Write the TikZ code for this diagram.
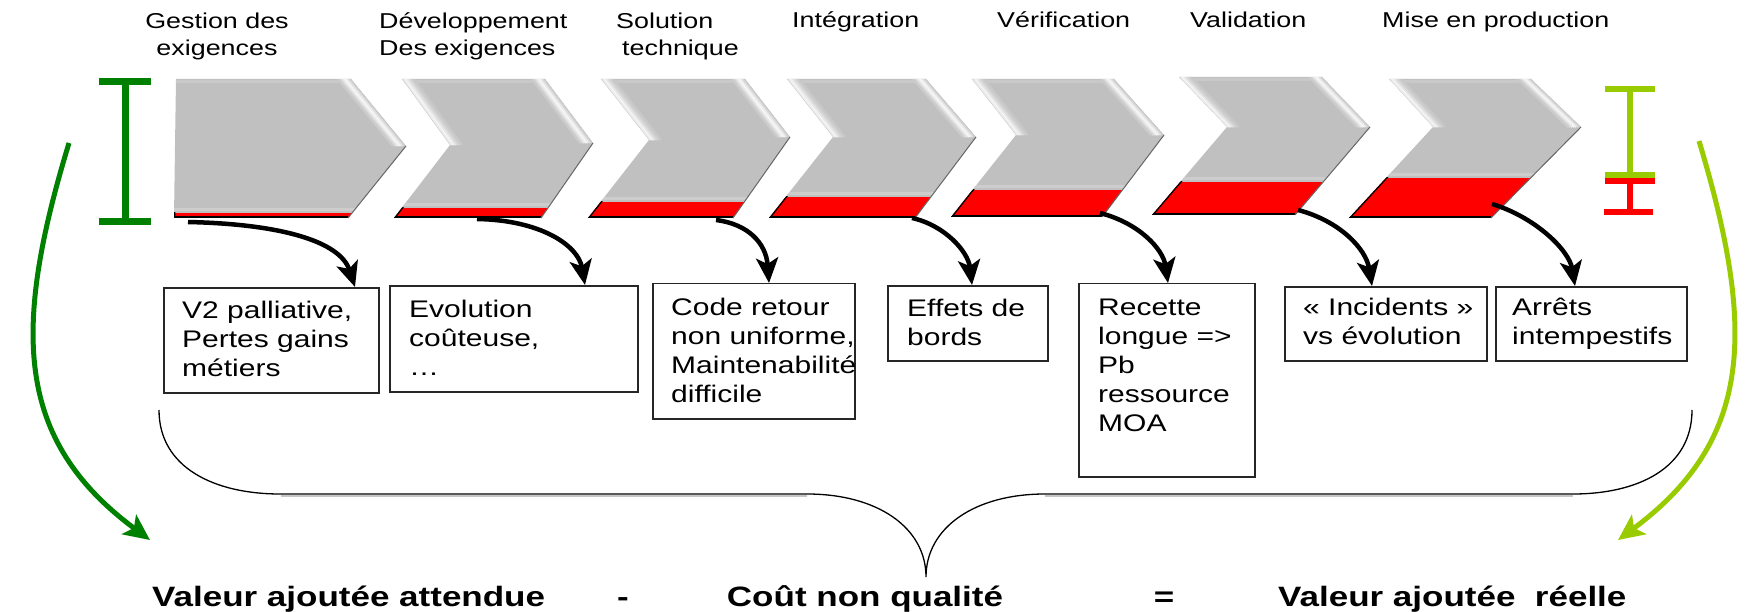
\documentclass[tikz,border=0pt]{standalone}
\usepackage{fontspec}
\setmainfont{Liberation Sans}[FakeStretch=1.25]
\usetikzlibrary{arrows.meta,calc}
\definecolor{chevgray}{RGB}{192,192,192}
\definecolor{dgreen}{RGB}{0,128,0}
\definecolor{lgreen}{RGB}{153,204,0}
\definecolor{cred}{RGB}{255,0,0}
% chevron: #1 index, #2 red top, #3 notch highlight (1/0)
\newcommand\chev[3]{%
  \fill[chevgray] (c#1-TL) -- (c#1-TR) -- (c#1-T) -- (c#1-BR) -- (c#1-BL) -- (c#1-N) -- cycle;
  \begin{scope}
    \clip (c#1-TL) -- (c#1-TR) -- (c#1-T) -- (c#1-BR) -- (c#1-BL) -- (c#1-N) -- cycle;
    \draw[line width=3pt, white!15!chevgray] ($(c#1-TL)+(0,3)$) -- ($(c#1-TR)+(0,3)$);
    \foreach \dd/\cc in {1/15,3/40,5/70,7/85,9/65,11/40,13/18}{%
      \draw[line width=2.3pt, white!\cc!chevgray] ($(c#1-TR)+(-\dd,0)$) -- ($(c#1-T)+(-\dd,0)$);}
    \ifnum#3=1\relax
    \foreach \dd/\cc in {2/70,4/80,6/60,8/40,10/25,12/12}{%
      \draw[line width=2.3pt, white!\cc!chevgray] ($(c#1-TL)+(\dd,0)$) -- ($(c#1-N)+(\dd,0)$);}
    \fi
    \draw[line width=3pt, white!20!chevgray] (0,#2-3) -- (1750,#2-3);
    \fill[cred] (0,#2) rectangle (1750,260);
    \begin{scope}
      \clip (0,#2) rectangle (1750,260);
      \draw[line width=2.5pt] (c#1-N) -- (c#1-BL);
    \end{scope}
    \draw[line width=3pt] (c#1-BL) -- (c#1-BR);
  \end{scope}
  \draw[black!60, line width=1pt] (c#1-T) -- (c#1-BR);
}
\begin{document}
\begin{tikzpicture}[x=1pt,y=-1pt,
  ttl/.style={font=\fontsize{21.5}{27}\selectfont, inner sep=0pt, text=black},
  boxtxt/.style={font=\fontsize{24}{29}\selectfont, inner sep=0pt, align=left, anchor=north west},
  cbox/.style={draw=black!85, line width=1.5pt, inner sep=0pt, anchor=north west},
  bot/.style={font=\fontsize{28}{32}\selectfont\bfseries, inner sep=0pt, anchor=base west},
  carrow/.style={line width=4.5pt, -{Stealth[length=25pt,width=22pt,inset=6pt]}},
  garrow/.style={line width=5pt, -{Stealth[length=26pt,width=24pt,inset=6pt]}},
  ibar/.style={line width=7pt}]
\useasboundingbox (0,0) rectangle (1750,612);

% chevrons
\foreach \i/\ax/\ay/\nx/\ny/\bx/\by/\rx/\ry/\tx/\ty/\cx/\cy/\rt/\hl in {
  1/176/79/175/146/174/218/351/79/406/146/348/218/213/0,
  2/402/79/450/145/394/218/545/79/593/143/541/218/208/1,
  3/601/79/649/140/588/218/745/79/790/137/733/218/202/1,
  4/787/79/833/137/769/218/926/79/976/137/915/218/197/1,
  5/972/79/1016/135/951/217/1114/79/1164/135/1102/217/190/1,
  6/1179/77/1227/127/1152/215/1322/77/1370/127/1295/215/182/1,
  7/1389/79/1433/127/1349/218/1531/79/1581/127/1491/218/178/1}{
  \coordinate (c\i-TL) at (\ax,\ay);
  \coordinate (c\i-N) at (\nx,\ny);
  \coordinate (c\i-BL) at (\bx,\by);
  \coordinate (c\i-TR) at (\rx,\ry);
  \coordinate (c\i-T) at (\tx,\ty);
  \coordinate (c\i-BR) at (\cx,\cy);
  \chev{\i}{\rt}{\hl}
}

% I-bars
\draw[ibar, dgreen] (99,82) -- (151,82) (125,82) -- (125,222) (99,222) -- (151,222);
\draw[ibar, lgreen, line width=6.5pt] (1605,89) -- (1655,89) (1630,89) -- (1630,175) (1605,175) -- (1655,175);
\draw[ibar, cred, line width=6.5pt] (1605,181) -- (1655,181) (1630,181) -- (1630,212) (1604,212) -- (1653,212);

% titles
\node[ttl, align=center, anchor=north] (h1) at (217,7) {\rule{0pt}{21pt}Gestion des\\exigences};
\node[ttl, align=left, anchor=north west] (h2) at (379,7) {\rule{0pt}{21pt}Développement\\Des exigences};
\node[ttl, align=left, anchor=north west] (h3) at (616,7) {\rule{0pt}{21pt}Solution\\\hspace*{6pt}technique};
\node[ttl, anchor=base west] (h4) at (792,28) {Intégration};
\node[ttl, anchor=base west] (h5) at (997,28) {Vérification};
\node[ttl, anchor=base west] (h6) at (1190,28) {Validation};
\node[ttl, anchor=base west] (h7) at (1382,28) {Mise en production};

% boxes
\node[cbox, minimum width=215pt, minimum height=105pt] (b1) at (163,287) {};
\node[cbox, minimum width=248pt, minimum height=106pt] (b2) at (389,285) {};
\node[cbox, minimum width=202pt, minimum height=135pt] (b3) at (652,283) {};
\node[cbox, minimum width=160pt, minimum height=75pt] (b4) at (887,285) {};
\node[cbox, minimum width=176pt, minimum height=193pt] (b5) at (1078,283) {};
\node[cbox, minimum width=202pt, minimum height=74pt] (b6) at (1284,286) {};
\node[cbox, minimum width=191pt, minimum height=74pt] (b7) at (1495,286) {};

\node[boxtxt] (t1) at ($(b1.north west)+(19,8)$) {\rule{0pt}{23pt}V2 palliative,\\Pertes gains\\métiers};
\node[boxtxt] (t2) at ($(b2.north west)+(20,9)$) {\rule{0pt}{23pt}Evolution\\coûteuse,\\…};
\node[boxtxt] (t3) at ($(b3.north west)+(19,9)$) {\rule{0pt}{23pt}Code retour\\non uniforme,\\Maintenabilité\\difficile};
\node[boxtxt] (t4) at ($(b4.north west)+(20,8)$) {\rule{0pt}{23pt}Effets de\\bords};
\node[boxtxt] (t5) at ($(b5.north west)+(20,9)$) {\rule{0pt}{23pt}Recette\\longue =>\\Pb\\ressource\\MOA};
\node[boxtxt] (t6) at ($(b6.north west)+(19,6)$) {\rule{0pt}{23pt}« Incidents »\\vs évolution};
\node[boxtxt] (t7) at ($(b7.north west)+(17,6)$) {\rule{0pt}{23pt}Arrêts\\intempestifs};

% black arrows
\coordinate (a1) at (188,222);
\coordinate (a2) at (477,219);
\coordinate (a3) at (716,220);
\coordinate (a4) at (912,218);
\coordinate (a5) at (1100,213);
\coordinate (a6) at (1298,210);
\coordinate (a7) at (1492,204);
\draw[carrow] (a1) .. controls +(92,2) and +(-15,-46) .. ([xshift=192pt]b1.north west);
\draw[carrow] (a2) .. controls +(63,1) and +(-7,-40) .. ([xshift=196pt]b2.north west);
\draw[carrow] (a3) .. controls +(32,4) and +(-3,-40) .. ([xshift=117pt]b3.north west);
\draw[carrow] (a4) .. controls +(32,7) and +(-4,-34) .. ([xshift=85pt]b4.north west);
\draw[carrow] (a5) .. controls +(39,10) and +(-5,-34) .. ([xshift=90pt]b5.north west);
\draw[carrow] (a6) .. controls +(42,11) and +(-6,-37) .. ([xshift=88pt]b6.north west);
\draw[carrow] (a7) .. controls +(43,13) and +(-6,-36) .. ([xshift=80pt]b7.north west);

% brace
\draw[gray!45, line width=2pt] (281,496) -- (807,496) (1045,496) -- (1573,496);
\draw[line width=1.3pt] (159,410) .. controls (159,468) and (215,494) .. (280,494) -- (807,494)
  .. controls (878,494) and (926,528) .. (926,577)
  .. controls (926,528) and (974,494) .. (1045,494) -- (1573,494)
  .. controls (1638,494) and (1692,468) .. (1692,410);

% green arrows
\coordinate (gl1) at (69,143);
\coordinate (gl2) at (150,540);
\coordinate (gr1) at (1699,141);
\coordinate (gr2) at (1618,540);
\draw[garrow, dgreen] (gl1) .. controls (12,330) and (15,440) .. (gl2);
\draw[garrow, lgreen] (gr1) .. controls (1756,330) and (1753,440) .. (gr2);

% bottom equation
\node[bot] (v1) at (152,606) {Valeur ajoutée attendue};
\node[bot, anchor=base] (minus) at (623,606) {-};
\node[bot, anchor=base] (cnq) at (865,606) {Coût non qualité};
\node[bot, anchor=base] (eq) at (1164,606) {=};
\node[bot] (v2) at (1278,606) {Valeur ajoutée\ \ réelle};
\end{tikzpicture}
\end{document}
